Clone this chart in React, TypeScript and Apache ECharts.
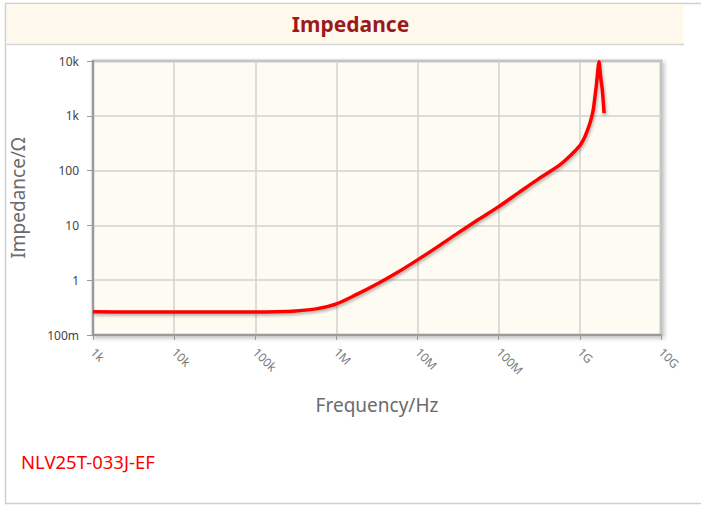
import React, { useEffect, useRef } from "react";
import * as echarts from "echarts";

const freqHz = [
  1e3, 3.16e3, 1e4, 3.16e4, 1e5, 1.78e5, 3.16e5, 5.62e5, 1e6, 1.78e6, 3.16e6, 5.62e6,
  1e7, 1.78e7, 3.16e7, 5.62e7, 1e8, 1.78e8, 3.16e8, 5.62e8, 7.5e8, 8.7e8, 1e9, 1.07e9,
  1.15e9, 1.22e9, 1.3e9, 1.37e9, 1.43e9, 1.48e9, 1.54e9, 1.59e9, 1.64e9, 1.68e9, 1.72e9,
  1.8e9, 1.89e9, 1.99e9,
];
const impedanceOhm = [
  0.265, 0.263, 0.262, 0.262, 0.263, 0.266, 0.275, 0.3, 0.37, 0.55, 0.85, 1.38,
  2.35, 4.1, 7.3, 12.8, 22, 40, 72, 126, 183, 228, 285, 335,
  410, 510, 660, 850, 1080, 1450, 2300, 3400, 5300, 7600, 9700,
  5200, 3000, 1120,
];
const xTickLabels = ["1k", "10k", "100k", "1M", "10M", "100M", "1G", "10G"]; // 1e3 .. 1e10
const yTickLabels = ["100m", "1", "10", "100", "1k", "10k"]; // 1e-1 .. 1e4

const titleText = "Impedance";
const partNumber = "NLV25T-033J-EF";
const xName = "Frequency/Hz";
const yName = "Impedance/\u03A9";

export default function App() {
  const ref = useRef<HTMLDivElement>(null);
  useEffect(() => {
    if (!ref.current) return;
    const chart = echarts.init(ref.current, null, { renderer: "svg" });
    const font = "'Noto Sans', 'Open Sans', sans-serif";
    chart.setOption({
      animation: false,
      backgroundColor: "#ffffff",
      graphic: [
        {
          type: "rect",
          z: -10,
          shape: { x: 5.5, y: 3.5, width: 720, height: 500 },
          style: { fill: "#ffffff", stroke: "#cfcfcf", lineWidth: 1.5 },
          silent: true,
        },
        {
          type: "rect",
          z: -9,
          shape: { x: 6.5, y: 4, width: 677, height: 40 },
          style: { fill: "#fff9ed", stroke: null },
          silent: true,
        },
        {
          type: "line",
          z: -8,
          shape: { x1: 6.5, y1: 44.5, x2: 684, y2: 44.5 },
          style: { stroke: "#d6d6d6", lineWidth: 1.5 },
          silent: true,
        },
        {
          type: "text",
          x: 21,
          y: 461,
          style: {
            text: partNumber,
            fill: "#ff0000",
            fontSize: 18.5,
            fontFamily: font,
            verticalAlign: "middle",
          },
        },
      ],
      title: {
        text: titleText,
        left: "center",
        top: 8,
        textStyle: { color: "#9b1b1b", fontSize: 21, fontWeight: "bold", fontFamily: font },
      },
      grid: {
        left: 93,
        right: 40,
        top: 61,
        bottom: 172,
        show: true,
        backgroundColor: "#fefbf2",
        borderColor: "#9a9a9a",
        borderWidth: 2.5,
        shadowColor: "rgba(0,0,0,0.25)",
        shadowBlur: 4,
        shadowOffsetX: 2,
        shadowOffsetY: 2,
      },
      xAxis: {
        type: "log",
        logBase: 10,
        min: 1e3,
        max: 1e10,
        name: xName,
        nameLocation: "middle",
        nameGap: 60,
        nameTextStyle: { color: "#6b6b6b", fontSize: 19, fontFamily: font },
        axisLine: { show: true, lineStyle: { color: "#9a9a9a", width: 2 } },
        axisTick: { show: true, length: 5, lineStyle: { color: "#9a9a9a" } },
        minorTick: { show: false },
        splitLine: { show: true, lineStyle: { color: "#d2d2d2", width: 1.5 } },
        axisLabel: {
          rotate: -45,
          color: "#777777",
          fontSize: 12,
          fontFamily: font,
          margin: 15,
          formatter: (v: number) => xTickLabels[Math.round(Math.log10(v)) - 3] ?? "",
        },
      },
      yAxis: {
        type: "log",
        logBase: 10,
        min: 0.1,
        max: 1e4,
        name: yName,
        nameLocation: "middle",
        nameGap: 66,
        nameTextStyle: { color: "#6b6b6b", fontSize: 19, fontFamily: font },
        axisLine: { show: true, lineStyle: { color: "#9a9a9a", width: 2 } },
        axisTick: { show: true, length: 6, lineStyle: { color: "#9a9a9a" } },
        splitLine: { show: true, lineStyle: { color: "#d2d2d2", width: 1.5 } },
        axisLabel: {
          color: "#444444",
          fontSize: 12,
          fontFamily: font,
          margin: 14,
          formatter: (v: number) => yTickLabels[Math.round(Math.log10(v)) + 1] ?? "",
        },
      },
      series: [
        {
          type: "line",
          data: freqHz.map((f, i) => [f, impedanceOhm[i]]),
          showSymbol: false,
          smooth: 0.3,
          clip: true,
          lineStyle: {
            color: "#ff0000",
            width: 3.5,
            shadowColor: "rgba(0,0,0,0.3)",
            shadowBlur: 3,
            shadowOffsetX: 1,
            shadowOffsetY: 2,
          },
        },
      ],
    });
    return () => chart.dispose();
  }, []);
  return (
    <div
      ref={ref}
      style={{ position: "fixed", left: 0, top: 0, width: 701, height: 507 }}
    />
  );
}
